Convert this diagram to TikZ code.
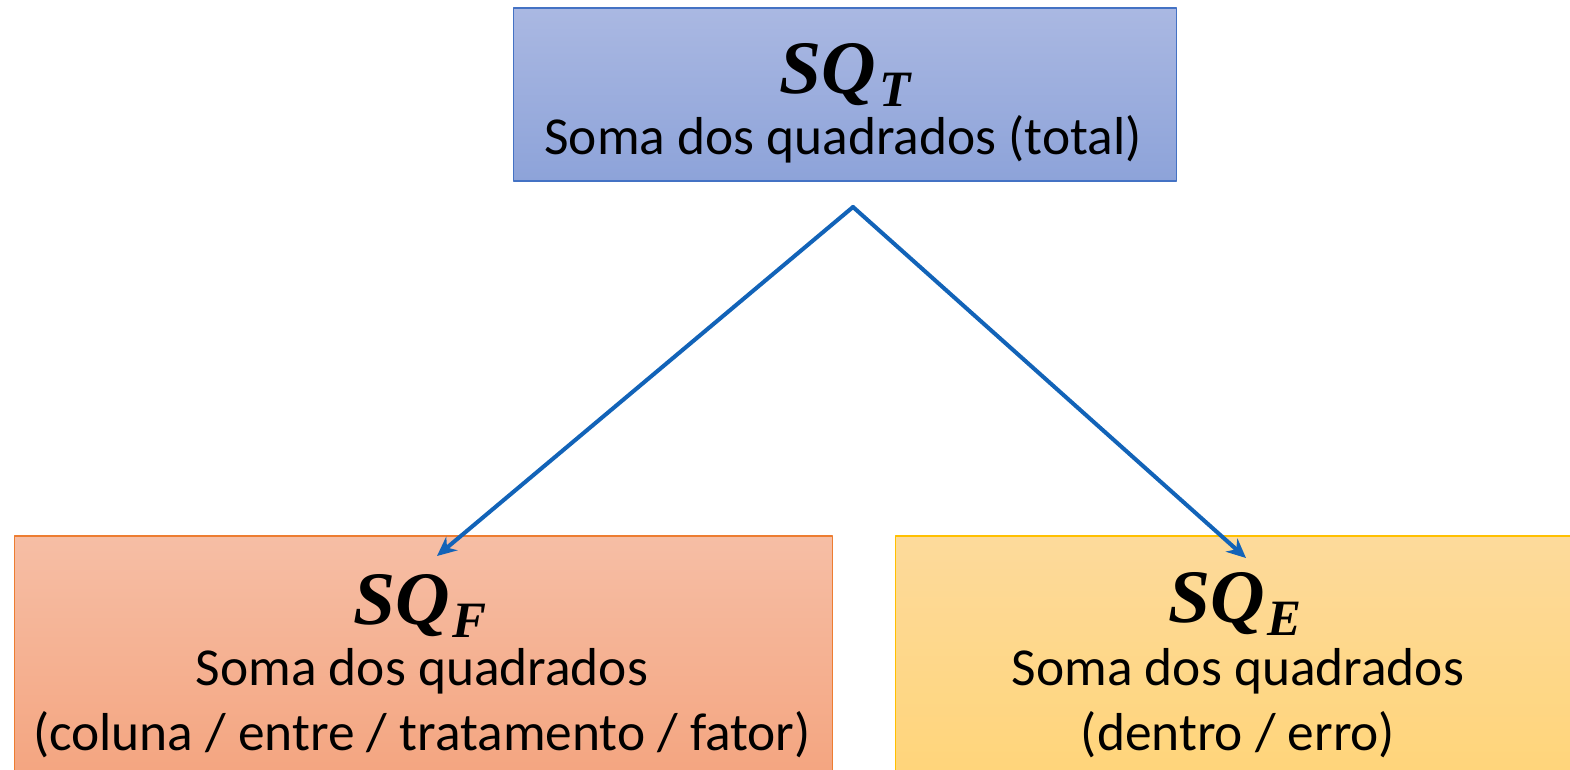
\documentclass[tikz,border=0pt]{standalone}
\usepackage{fontspec}
\setmainfont{Carlito}
\newfontfamily\sqfont{Liberation Serif}
\usetikzlibrary{arrows.meta}

\definecolor{arrowblue}{RGB}{18,99,184}
\definecolor{edgeblue}{RGB}{68,114,196}
\definecolor{edgeorange}{RGB}{237,125,49}
\definecolor{edgeyellow}{RGB}{255,192,0}

% SQ with its index
\newcommand{\sqsym}[1]{{\sqfont\bfseries\itshape SQ\kern0.04em\raisebox{-0.18em}{\fontsize{29}{29}\selectfont #1}}}

\tikzset{
  box/.style={draw,line width=0.6pt,inner sep=0pt},
  sqlabel/.style={inner sep=0pt,font=\fontsize{43}{46}\selectfont},
  desc/.style={inner sep=0pt,font=\fontsize{30.4}{37}\selectfont,align=center},
  link/.style={arrowblue,line width=2.3pt,-{Stealth[length=11pt,width=10pt]}}
}

\begin{document}
\begin{tikzpicture}[x=0.02cm,y=-0.02cm,line cap=round,line join=round]
% page frame, in pixels of the reference
\useasboundingbox (0,0) rectangle (1570,770);

% boxes
\node[box,draw=edgeblue,top color={rgb,255:red,170;green,184;blue,226},
  bottom color={rgb,255:red,141;green,163;blue,217},
  minimum width=13.28cm,minimum height=3.46cm] (total) at (845,94.5) {};
\begin{scope}
\clip (0,0) rectangle (1570,770);
\node[box,draw=edgeorange,top color={rgb,255:red,246;green,190;blue,165},
  bottom color={rgb,255:red,244;green,165;blue,128},
  minimum width=16.38cm,minimum height=4.8cm] (fator) at (423.5,656) {};
\node[box,draw=edgeyellow,top color={rgb,255:red,253;green,218;blue,155},
  bottom color={rgb,255:red,255;green,213;blue,122},
  minimum width=13.6cm,minimum height=4.8cm] (erro) at (1235,656) {};
\end{scope}

% texts
\node[sqlabel] (sqt) at (845,75) {\sqsym{T}};
\node[desc] (ttotal) at (843,139) {Soma dos quadrados (total)};

\node[sqlabel] (sqf) at (420,606) {\sqsym{F}};
\node[desc] (tfator) at (422,703) {Soma dos quadrados\\(coluna / entre / tratamento / fator)};

\node[sqlabel] (sqe) at (1235,604) {\sqsym{E}};
\node[desc] (terro) at (1238,703) {Soma dos quadrados\\(dentro / erro)};

% arrows
\coordinate (apex) at (853,207);
\coordinate (tipF) at (437,556);
\coordinate (tipE) at (1246,558);
\draw[link] (apex) -- (tipF);
\draw[link] (apex) -- (tipE);

\end{tikzpicture}
\end{document}
